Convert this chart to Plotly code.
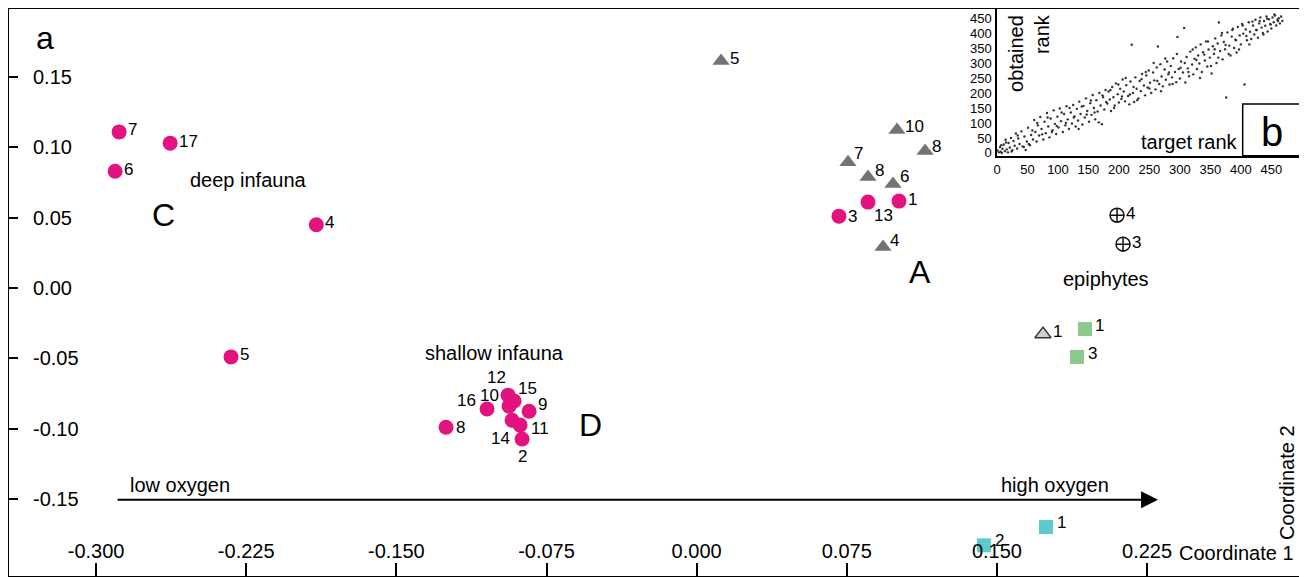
import plotly.graph_objects as go

FONT = "Liberation Sans, Arial, sans-serif"

# ---------------- main ordination data ----------------
deep_lbl = ["7", "17", "6", "4", "5"]
deep_x = [-0.2885, -0.263, -0.2905, -0.190, -0.2326]
deep_y = [0.111, 0.103, 0.083, 0.045, -0.049]

shallow_lbl = ["8", "16", "10", "12", "15", "9", "14", "11", "2"]
shallow_x = [-0.1252, -0.1047, -0.0937, -0.0942, -0.0912, -0.0837, -0.0922, -0.0882, -0.0872]
shallow_y = [-0.099, -0.086, -0.084, -0.0762, -0.0804, -0.0876, -0.094, -0.0975, -0.1074]

a_circ_lbl = ["3", "13", "1"]
a_circ_x = [0.0711, 0.0856, 0.1011]
a_circ_y = [0.0511, 0.0611, 0.0618]

tri_lbl = ["5", "10", "7", "8", "6", "8", "4"]
tri_x = [0.0122, 0.1001, 0.0756, 0.0856, 0.0981, 0.1141, 0.0931]
tri_y = [0.1614, 0.1123, 0.0895, 0.0789, 0.0739, 0.0974, 0.0291]

open_tri_lbl = ["1"]
open_tri_x = [0.173]
open_tri_y = [-0.0328]

green_lbl = ["1", "3"]
green_x = [0.194, 0.190]
green_y = [-0.0292, -0.049]

cyan_lbl = ["1", "2"]
cyan_x = [0.1745, 0.1435]
cyan_y = [-0.170, -0.183]

cross_lbl = ["4", "3"]
cross_x = [0.210, 0.213]
cross_y = [0.0518, 0.0312]

x_tick_vals = [-0.300, -0.225, -0.150, -0.075, 0.000, 0.075, 0.150, 0.225]
x_tick_text = ["-0.300", "-0.225", "-0.150", "-0.075", "0.000", "0.075", "0.150", "0.225"]
y_tick_vals = [0.15, 0.10, 0.05, 0.00, -0.05, -0.10, -0.15]
y_tick_text = ["0.15", "0.10", "0.05", "0.00", "-0.05", "-0.10", "-0.15"]

# ---------------- inset (b) data: target rank vs obtained rank ----------------
target_rank = [
    1, 3, 5, 6, 8, 9, 11, 13, 14, 16, 18, 19, 21, 23, 25, 27, 29, 31, 33, 35, 37, 40, 42, 45, 47, 49, 51, 54, 56, 59,
    61, 63, 65, 67, 69, 71, 73, 76, 78, 80, 82, 84, 86, 88, 91, 93, 95, 97, 99, 101, 103, 105, 108, 110, 112, 114, 116, 118,
    121, 123, 125, 127, 129, 131, 133, 135, 137, 140, 142, 144, 146, 148, 151, 153, 155, 157, 159, 161, 163, 165, 168, 170, 172, 174, 176, 178,
    181, 183, 185, 187, 189, 191, 193, 195, 198, 200, 202, 204, 206, 208, 210, 212, 215, 217, 219, 221, 223, 225, 227, 229, 232, 234, 236, 238,
    241, 243, 245, 247, 249, 251, 253, 256, 258, 260, 262, 264, 266, 268, 270, 272, 275, 277, 279, 281, 283, 285, 287, 289, 292, 294, 296, 298,
    300, 302, 305, 307, 309, 311, 313, 315, 317, 320, 322, 324, 326, 328, 330, 332, 334, 336, 338, 341, 343, 345, 347, 349, 352, 354, 356, 358,
    360, 362, 364, 366, 368, 370, 372, 374, 376, 378, 381, 383, 385, 387, 389, 391, 393, 395, 398, 400, 402, 404, 406, 408, 410, 413, 415, 417,
    420, 422, 424, 426, 428, 430, 432, 434, 436, 438, 440, 442, 444, 446, 448, 450, 452, 454, 456, 458, 460, 462, 464, 466, 468,
    7, 15, 24, 34, 44, 52, 58, 66, 74, 83, 90, 98, 106, 113, 119, 126, 134, 139, 147, 154, 160, 167, 173, 179,
    186, 192, 199, 205, 211, 218, 224, 230, 237, 244, 250, 257, 263, 269, 276, 282, 288, 295, 301, 308, 314,
    321, 327, 333, 340, 346, 351, 357, 363, 369, 375, 380, 386, 392, 397, 403, 409, 414, 419, 425, 431, 437, 443, 449, 455, 461,
]
obtained_rank = [
    8, 2, 20, 4, 0, 14, 28, 6, 44, 12, 2, 33, 18, 50, 9, 40, 24, 65, 15, 48, 30, 72, 22, 55, 10, 38, 84, 26, 60, 45,
    110, 70, 38, 92, 58, 120, 80, 45, 104, 66, 133, 88, 52, 115, 76, 142, 97, 63, 121, 85, 148, 106, 70, 130, 92, 156, 112, 80,
    135, 98, 160, 122, 88, 147, 108, 171, 130, 95, 157, 118, 182, 140, 104, 166, 127, 193, 150, 112, 176, 138, 200, 158, 96, 186, 145, 210,
    165, 205, 178, 140, 220, 186, 158, 232, 196, 168, 214, 180, 245, 205, 172, 226, 190, 162, 238, 361, 200, 170, 252, 214, 182, 240, 206, 263,
    225, 192, 258, 218, 275, 234, 200, 268, 242, 212, 285, 355, 230, 296, 255, 222, 278, 244, 305, 262, 228, 290, 252, 316, 270, 236, 387, 280,
    248, 305, 268, 417, 235, 320, 282, 256, 338, 295, 262, 314, 352, 280, 325, 298, 362, 270, 336, 308, 372, 288, 345, 318, 265, 356, 330, 382,
    300, 365, 435, 340, 392, 312, 370, 346, 185, 402, 358, 325, 388, 414, 350, 378, 335, 420, 392, 362, 430, 398, 228, 412, 376, 436, 404, 380,
    425, 395, 444, 410, 384, 432, 452, 418, 400, 440, 424, 455, 405, 446, 430, 415, 452, 436, 458, 425, 444, 449, 432, 455, 440,
    26, 35, 5, 58, 20, 30, 75, 100, 62, 118, 70, 90, 135, 100, 150, 118, 80, 155, 128, 175, 135, 102, 192, 170,
    210, 150, 228, 188, 250, 195, 220, 176, 246, 270, 215, 300, 240, 206, 315, 268, 230, 330, 284, 300, 270,
    345, 310, 250, 328, 372, 290, 346, 318, 400, 360, 330, 410, 376, 345, 425, 390, 362, 438, 410, 440, 395, 448, 428, 462, 440,
]
inset_tick_vals = [0, 50, 100, 150, 200, 250, 300, 350, 400, 450]

# ---------------- label placement (pixel offsets: dx, dy, xanchor) ----------------
deep_off = [(7, 2, "left")] * 5
shallow_off = [(8, 0, "left"), (-9, 8, "right"), (-8, 11, "right"), (-12, 18, "center"),
               (13, 13, "center"), (7, 7, "left"), (0, -18, "right"), (9, -3, "left"), (0, -17, "center")]
a_circ_off = [(7, 0, "left"), (4, -13, "left"), (7, 2, "left")]
tri_off = [(7, 3, "left"), (6, 4, "left"), (4, 9, "left"), (5, 7, "left"), (5, 8, "left"),
           (5, 5, "left"), (5, 7, "left")]
open_tri_off = [(8, 3, "left")]
green_off = [(8, 4, "left"), (9, 3, "left")]
cyan_off = [(9, 5, "left"), (9, 5, "left")]
cross_off = [(7, 2, "left"), (7, 2, "left")]

# ---------------- figure ----------------
fig = go.Figure()
ann = []
LABEL_SIZE = 17


def add_group(x, y, labels, offs, symbol, color, size, line=None):
    fig.add_trace(go.Scatter(
        x=x, y=y, mode="markers",
        marker=dict(symbol=symbol, color=color, size=size,
                    line=line if line else dict(width=0)),
        showlegend=False, hoverinfo="skip", cliponaxis=False,
        xaxis="x", yaxis="y",
    ))
    for xi, yi, lab, (dx, dy, anc) in zip(x, y, labels, offs):
        ann.append(dict(x=xi, y=yi, xref="x", yref="y", text=lab, showarrow=False,
                        xanchor=anc, yanchor="middle", xshift=dx, yshift=dy,
                        font=dict(family=FONT, size=LABEL_SIZE, color="black")))


add_group(deep_x, deep_y, deep_lbl, deep_off, "circle", "#E2137F", 15)
add_group(shallow_x, shallow_y, shallow_lbl, shallow_off, "circle", "#E2137F", 15)
add_group(a_circ_x, a_circ_y, a_circ_lbl, a_circ_off, "circle", "#E2137F", 15)
add_group(tri_x, tri_y, tri_lbl, tri_off, "triangle-up", "#737373", 15)
add_group(open_tri_x, open_tri_y, open_tri_lbl, open_tri_off, "triangle-up", "#CFCFCF", 14,
          line=dict(color="#333333", width=1.5))
add_group(green_x, green_y, green_lbl, green_off, "square", "#8DC98B", 14)
add_group(cyan_x, cyan_y, cyan_lbl, cyan_off, "square", "#5CCBCB", 14)
add_group(cross_x, cross_y, cross_lbl, cross_off, "circle-cross-open", "#111111", 14,
          line=dict(color="#111111", width=1.5))

# inset scatter
fig.add_trace(go.Scatter(
    x=target_rank, y=obtained_rank, mode="markers",
    marker=dict(color="#333333", size=2.4),
    showlegend=False, hoverinfo="skip", xaxis="x2", yaxis="y2",
))

# page body adds an 8px margin; the figure fills the rest of the 1307x577 window
W, H = 1299, 569
fig.update_layout(
    width=W, height=H,
    margin=dict(l=1, r=7, t=1, b=1, autoexpand=False),
    paper_bgcolor="white", plot_bgcolor="white",
    font=dict(family=FONT, color="black"),
    xaxis=dict(
        domain=[0, 1], range=[-0.3435, 0.3014], automargin=False,
        tickvals=x_tick_vals, ticktext=x_tick_text,
        ticks="inside", ticklen=13, tickwidth=1.5, tickcolor="black",
        ticklabelposition="inside", ticklabelstandoff=2,
        tickfont=dict(family=FONT, size=20, color="black"),
        showline=True, linecolor="black", linewidth=2, mirror=True,
        showgrid=False, zeroline=False, anchor="y",
    ),
    yaxis=dict(
        domain=[0, 1], range=[-0.2048, 0.1984], automargin=False,
        tickvals=y_tick_vals, ticktext=y_tick_text,
        ticks="inside", ticklen=9, tickwidth=1.5, tickcolor="black",
        ticklabelposition="inside", ticklabelstandoff=16,
        tickfont=dict(family=FONT, size=20, color="black"),
        showline=True, linecolor="black", linewidth=2, mirror=True,
        showgrid=False, zeroline=False, anchor="x",
    ),
    xaxis2=dict(
        domain=[0.7653, 1.0], range=[0, 497], automargin=False,
        tickvals=inset_tick_vals, ticks="", ticklabelstandoff=1,
        tickfont=dict(family=FONT, size=13, color="black"),
        showline=True, linecolor="black", linewidth=1.5, mirror=True,
        showgrid=False, zeroline=False, anchor="y2",
    ),
    yaxis2=dict(
        domain=[0.7414, 1.0], range=[-9, 480], automargin=False,
        tickvals=inset_tick_vals, ticks="", ticklabelstandoff=1,
        tickfont=dict(family=FONT, size=13, color="black"),
        showline=True, linecolor="black", linewidth=1.5, mirror=True,
        showgrid=False, zeroline=False, anchor="x2",
    ),
)

# white background for inset and box for "b"
fig.add_shape(type="rect", xref="x2 domain", yref="y2 domain", x0=0, x1=1, y0=0, y1=1,
              fillcolor="white", line=dict(width=0), layer="below")
fig.add_shape(type="rect", xref="x2", yref="y2 domain", x0=403, x1=497, y0=0, y1=0.352,
              fillcolor="rgba(0,0,0,0)", line=dict(color="black", width=1.5), layer="above")


def txt(x, y, s, size, xref="x", yref="y", **kw):
    d = dict(x=x, y=y, xref=xref, yref=yref, text=s, showarrow=False,
             xanchor="center", yanchor="middle",
             font=dict(family=FONT, size=size, color="black"))
    d.update(kw)
    ann.append(d)


# panel letters and group names
txt(0.0279, 0.949, "a", 32, xref="paper", yref="paper")
txt(-0.2665, 0.0518, "C", 32)
txt(-0.2240, 0.0767, "deep infauna", 20)
txt(-0.1010, -0.0463, "shallow infauna", 20)
txt(-0.0532, -0.0975, "D", 32)
txt(0.1116, 0.0113, "A", 32)
txt(0.2045, 0.0063, "epiphytes", 20)
txt(-0.2580, -0.1400, "low oxygen", 20)
txt(0.1790, -0.1400, "high oxygen", 20)
txt(0.9969, 0.0406, "Coordinate 1", 20, xref="paper", yref="paper", xanchor="right")
txt(0.9899, 0.1658, "Coordinate 2", 20, xref="paper", yref="paper", textangle=-90)

# oxygen gradient arrow
ann.append(dict(x=0.2305, y=-0.1505, ax=-0.2900, ay=-0.1505, xref="x", yref="y",
                axref="x", ayref="y", showarrow=True, text="", arrowhead=2,
                arrowsize=1.7, arrowwidth=2, arrowcolor="black", standoff=0))

# inset texts
txt(451, 0.16, "b", 40, xref="x2", yref="y2 domain")
txt(398, -6, "target rank", 20, xref="x2", yref="y2", xanchor="right", yanchor="bottom")
txt(0.770, 0.995, "obtained<br>rank", 20, xref="paper", yref="paper", textangle=-90,
    xanchor="left", yanchor="top", align="right")

fig.update_layout(annotations=ann)
fig.write_html("out.html")
